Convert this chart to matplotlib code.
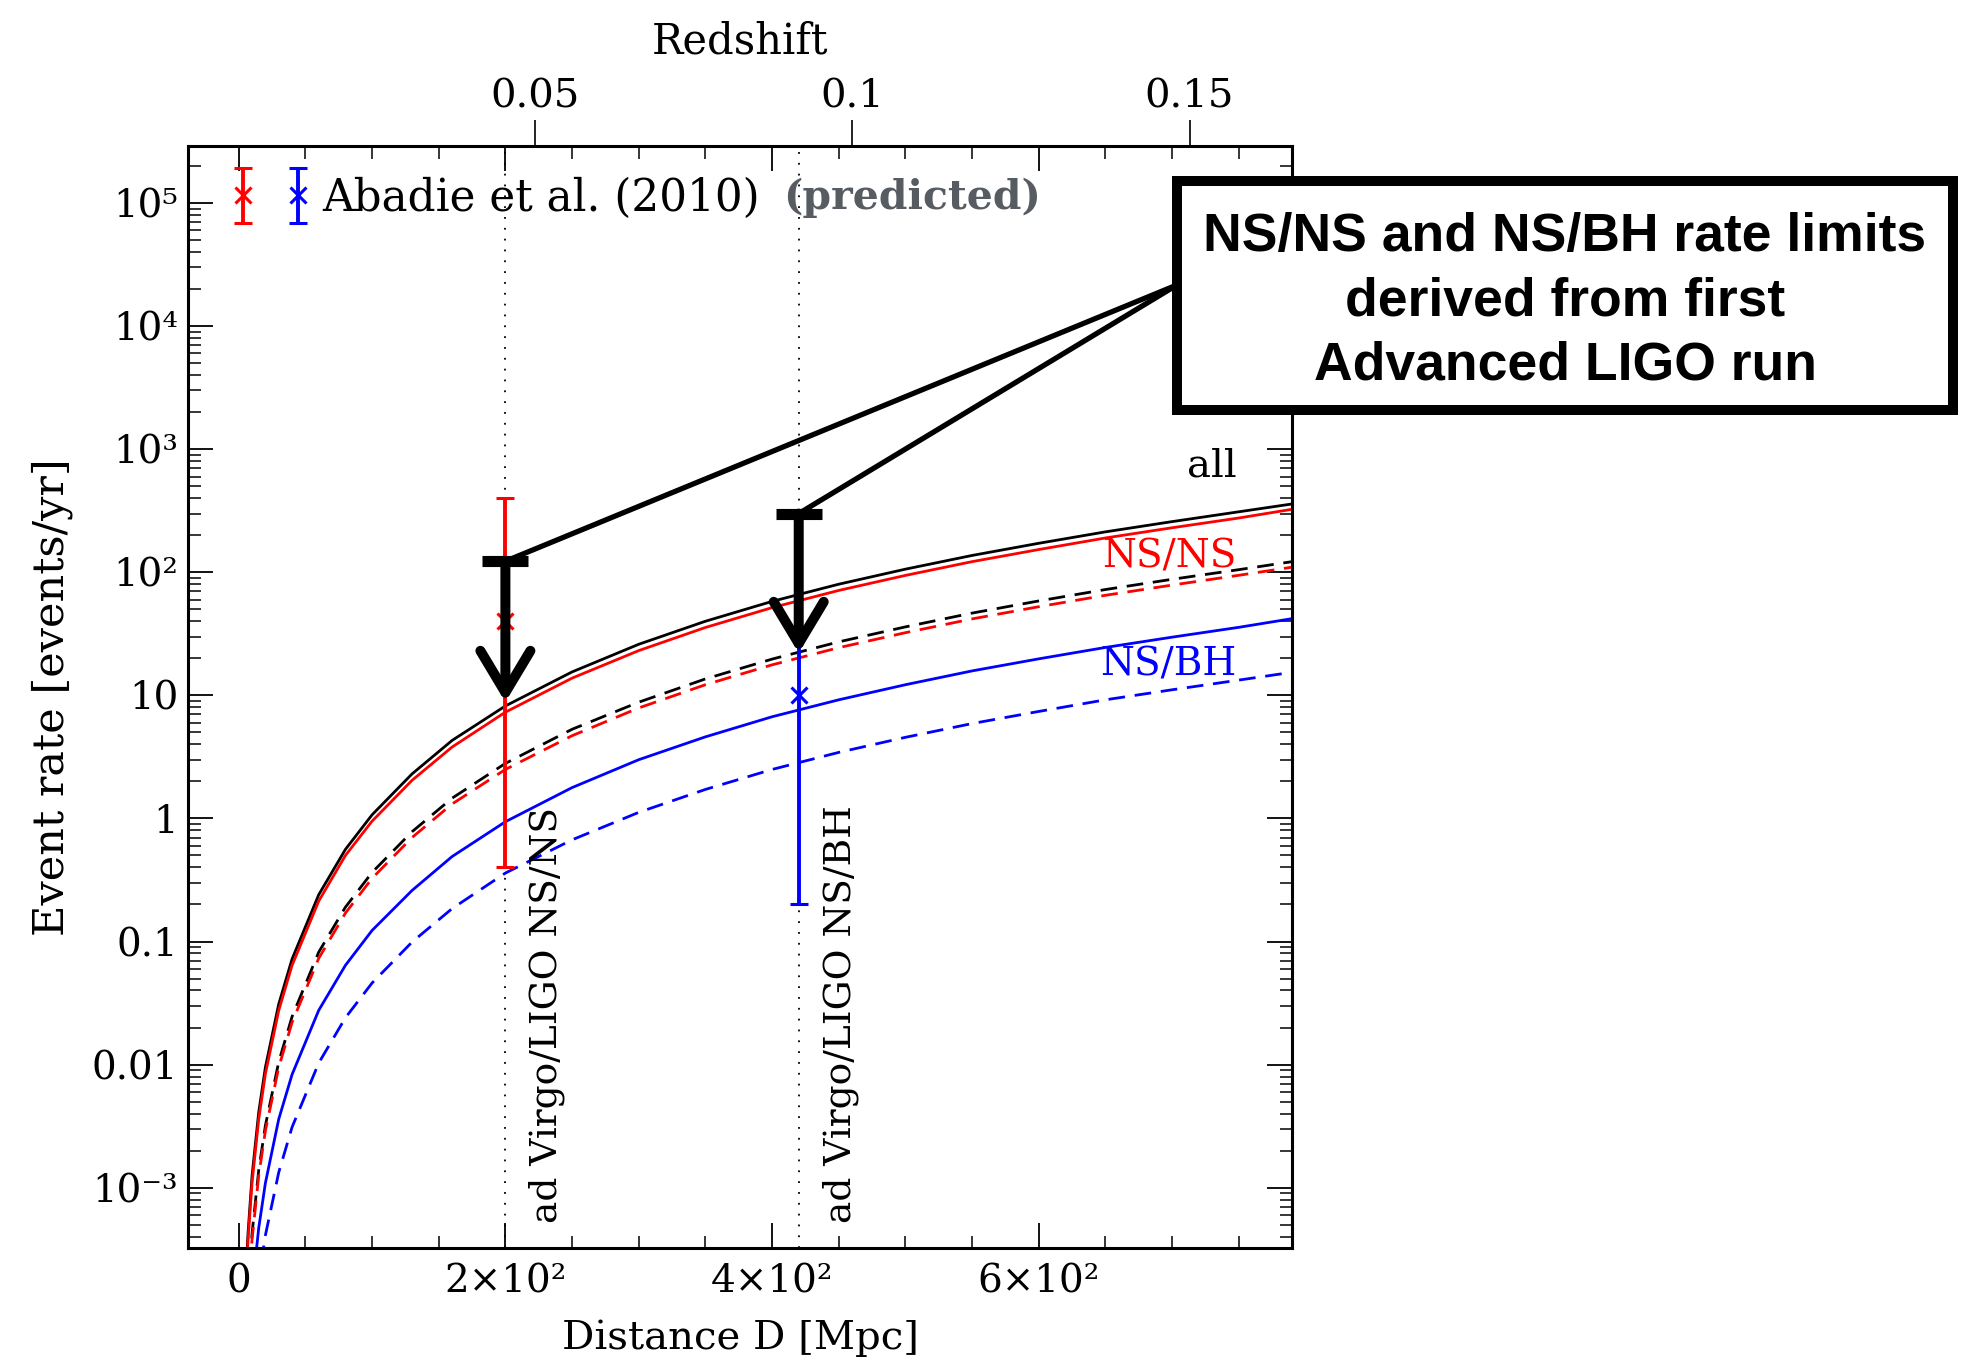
import numpy as np
import matplotlib
matplotlib.use("Agg")
import matplotlib.pyplot as plt
from matplotlib.patches import Rectangle
from matplotlib.container import ErrorbarContainer
from matplotlib.legend_handler import HandlerErrorbar, HandlerTuple
from matplotlib.ticker import FixedLocator, FixedFormatter, MultipleLocator, LogLocator, NullFormatter
import matplotlib.transforms as mtransforms

plt.rcParams['font.family'] = ['DejaVu Serif', 'DejaVu Sans']

# distance grid [Mpc] and event rates [events/yr]
dist = [5, 7, 10, 15, 20, 30, 40, 60, 80, 100, 130, 160, 200, 250, 300,
        350, 400, 450, 500, 550, 600, 650, 700, 750, 790]
rate_all = [1.6e-4, 4.3e-4, 1.25e-3, 4.1e-3, 9.5e-3, 0.031, 0.072, 0.24, 0.56, 1.07,
            2.3, 4.3, 8.2, 15.5, 26, 40, 58, 80, 106, 137, 172, 213, 258, 310, 359]
rate_nsns = [1.42e-4, 3.8e-4, 1.1e-3, 3.6e-3, 8.4e-3, 0.0275, 0.064, 0.213, 0.5, 0.95,
             2.04, 3.8, 7.3, 13.8, 23.1, 35.6, 51.6, 71.2, 94.3, 122, 153, 190, 230, 276, 325]
rate_all_dash = [5.4e-5, 1.46e-4, 4.25e-4, 1.39e-3, 3.2e-3, 0.0105, 0.0245, 0.082, 0.19, 0.364,
                 0.78, 1.46, 2.8, 5.3, 8.8, 13.6, 19.7, 27.2, 36, 46.6, 58.5, 72.4, 87.7, 105, 122]
rate_nsns_dash = [4.9e-5, 1.3e-4, 3.8e-4, 1.25e-3, 2.9e-3, 9.5e-3, 0.022, 0.073, 0.17, 0.326,
                  0.70, 1.31, 2.5, 4.7, 7.9, 12.2, 17.7, 24.4, 32.3, 41.8, 52.5, 65, 78.7, 94.5, 110]
rate_nsbh = [1.84e-5, 4.9e-5, 1.44e-4, 4.7e-4, 1.09e-3, 3.6e-3, 8.3e-3, 0.0276, 0.064, 0.123,
             0.26, 0.49, 0.94, 1.78, 3.0, 4.6, 6.7, 9.2, 12.2, 15.8, 19.8, 24.5, 29.7, 35.7, 42]
rate_nsbh_dash = [6.9e-6, 1.85e-5, 5.4e-5, 1.76e-4, 4.1e-4, 1.33e-3, 3.1e-3, 0.0103, 0.024, 0.046,
                  0.099, 0.185, 0.36, 0.67, 1.12, 1.72, 2.5, 3.44, 4.56, 5.9, 7.4, 9.2, 11.1, 13.3, 15.4]

# Abadie et al. (2010) predicted rates at the detector horizons
abadie_dist = [200, 420]
abadie_low = [0.4, 0.2]
abadie_mid = [40, 10]
abadie_high = [400, 300]
abadie_colors = ['red', 'blue']
horizon_labels = ['ad Virgo/LIGO NS/NS', 'ad Virgo/LIGO NS/BH']

# first Advanced LIGO run upper limits
limit_rate = [123, 300]
limit_arrow_tip = [8.8, 22]

# axis ticks
x_ticks = [0, 200, 400, 600]
x_ticklabels = ['0', '2×10²', '4×10²', '6×10²']
y_ticks = [1e-3, 1e-2, 1e-1, 1, 10, 1e2, 1e3, 1e4, 1e5]
y_ticklabels = ['10⁻³', '0.01', '0.1', '1', '10', '10²', '10³', '10⁴', '10⁵']
z_ticks = [0.05, 0.1, 0.15]
z_ticklabels = ['0.05', '0.1', '0.15']

# luminosity distance for the redshift axis (flat LCDM, H0=70, Om=0.3)
c_kms, H0, Om = 299792.458, 70.0, 0.3
z_grid = np.linspace(0, 0.3, 3001)
inv_E = 1 / np.sqrt(Om * (1 + z_grid) ** 3 + 1 - Om)
d_com = c_kms / H0 * np.concatenate([[0], np.cumsum(0.5 * (inv_E[1:] + inv_E[:-1]) * np.diff(z_grid))])
d_lum = (1 + z_grid) * d_com

fig = plt.figure(figsize=(19.63, 13.66), dpi=100)
ax = fig.add_axes([0.0958, 0.0864, 0.5624, 0.8064])
ax.set_yscale('log')

dash = (0, (6, 3.5))
lw = 2.0
ax.plot(dist, rate_all, color='black', lw=lw, zorder=2)
ax.plot(dist, rate_nsns, color='red', lw=lw, zorder=2)
ax.plot(dist, rate_all_dash, color='black', lw=lw, ls=dash, zorder=2)
ax.plot(dist, rate_nsns_dash, color='red', lw=lw, ls=dash, zorder=2)
ax.plot(dist, rate_nsbh, color='blue', lw=lw, zorder=2)
ax.plot(dist, rate_nsbh_dash, color='blue', lw=lw, ls=dash, zorder=2)

for d in abadie_dist:
    ax.axvline(d, color='black', lw=1.3, ls=(0, (1, 5)), zorder=1)

ebs = []
for d, lo, mid, hi, col in zip(abadie_dist, abadie_low, abadie_mid, abadie_high, abadie_colors):
    eb = ax.errorbar([d], [mid], yerr=[[mid - lo], [hi - mid]], fmt='x', color=col,
                     ms=11, mew=2.2, elinewidth=2.8, capsize=6.5, capthick=2.2, zorder=3)
    ebs.append(eb)

# horizon labels next to the dotted lines
blend = mtransforms.blended_transform_factory(ax.transData, ax.transAxes)
for d, lab in zip(abadie_dist, horizon_labels):
    ax.annotate(lab, xy=(d, 0), xycoords=blend, xytext=(30, 18), textcoords='offset points',
                rotation=90, ha='center', va='bottom', fontsize=27)

# upper limits: T bar plus downward arrow
ax.plot(abadie_dist, limit_rate, ls='none', marker='_', ms=33, mew=8, color='black', zorder=6)
for d, top, tip in zip(abadie_dist, limit_rate, limit_arrow_tip):
    ax.annotate('', xy=(d, tip), xytext=(d, top),
                arrowprops=dict(arrowstyle='->,head_length=30,head_width=18', mutation_scale=1,
                                lw=7.2, color='black', shrinkA=0, shrinkB=0), zorder=6)

# curve labels
ax.text(0.950, 0.710, 'all', transform=ax.transAxes, ha='right', va='center', fontsize=29)
ax.text(0.950, 0.627, 'NS/NS', transform=ax.transAxes, ha='right', va='center', fontsize=28, color='red')
ax.text(0.950, 0.529, 'NS/BH', transform=ax.transAxes, ha='right', va='center', fontsize=28, color='blue')

# legend
leg = ax.legend(handles=[tuple(ebs)], labels=['Abadie et al. (2010)'], loc='center left',
                bbox_to_anchor=(0.036, 0.953), frameon=False, fontsize=31.5,
                handlelength=1.95, handletextpad=0.2, borderpad=0, borderaxespad=0,
                handler_map={tuple: HandlerTuple(ndivide=None, pad=0.56),
                             ErrorbarContainer: HandlerErrorbar(xerr_size=0.4, yerr_size=0.62)})
ax.text(0.539, 0.953, '(predicted)', transform=ax.transAxes, ha='left', va='center',
        fontsize=29.5, fontweight='bold', color='#575c63')

ax.set_xlim(-38, 790)
ax.set_ylim(10 ** -3.49, 10 ** 5.46)
ax.xaxis.set_major_locator(FixedLocator(x_ticks))
ax.xaxis.set_major_formatter(FixedFormatter(x_ticklabels))
ax.xaxis.set_minor_locator(MultipleLocator(50))
ax.yaxis.set_major_locator(FixedLocator(y_ticks))
ax.yaxis.set_major_formatter(FixedFormatter(y_ticklabels))
ax.yaxis.set_minor_locator(LogLocator(base=10, subs=np.arange(2, 10), numticks=100))
ax.yaxis.set_minor_formatter(NullFormatter())
ax.set_xlabel('Distance D [Mpc]', fontsize=29, labelpad=14)
ax.set_ylabel('Event rate [events/yr]', fontsize=31, labelpad=14)

# redshift axis on top
ax2 = ax.twiny()
ax2.set_xlim(ax.get_xlim())
ax2.set_xticks(np.interp(z_ticks, z_grid, d_lum))
ax2.set_xticklabels(z_ticklabels)
ax2.tick_params(axis='x', direction='out', length=19, width=1.2, labelsize=29, pad=3)
ax2.set_xlabel('Redshift', fontsize=30, labelpad=18)
for s in ax2.spines.values():
    s.set_visible(False)

ax.tick_params(which='both', direction='in', top=True, right=True, labelsize=28)
ax.tick_params(which='major', length=18, width=1.3)
ax.tick_params(which='minor', length=9, width=1.1)
ax.tick_params(axis='x', which='major', pad=11)
ax.tick_params(axis='y', which='major', pad=7)
for s in ax.spines.values():
    s.set_linewidth(2.2)

# callout box
box_x0, box_y0, box_w, box_h = 0.5996, 0.6999, 0.3953, 0.1676
anchor = (box_x0, 0.7914)
for d, top in zip(abadie_dist, limit_rate):
    ax.annotate('', xy=anchor, xycoords='figure fraction', xytext=(d, top), textcoords='data',
                arrowprops=dict(arrowstyle='-', lw=3.8, color='black', shrinkA=0, shrinkB=0),
                annotation_clip=False, zorder=7)
fig.patches.append(Rectangle((box_x0, box_y0), box_w, box_h, transform=fig.transFigure,
                             facecolor='white', edgecolor='black', lw=7.2, zorder=8))
fig.text(box_x0 + box_w / 2, 0.7795,
         'NS/NS and NS/BH rate limits\nderived from first\nAdvanced LIGO run',
         ha='center', va='center', multialignment='center', fontsize=38.5, fontweight='bold',
         linespacing=1.36, family=['Liberation Sans Narrow', 'Liberation Sans', 'DejaVu Sans'], zorder=9)

fig.savefig('out.png', dpi=100)
